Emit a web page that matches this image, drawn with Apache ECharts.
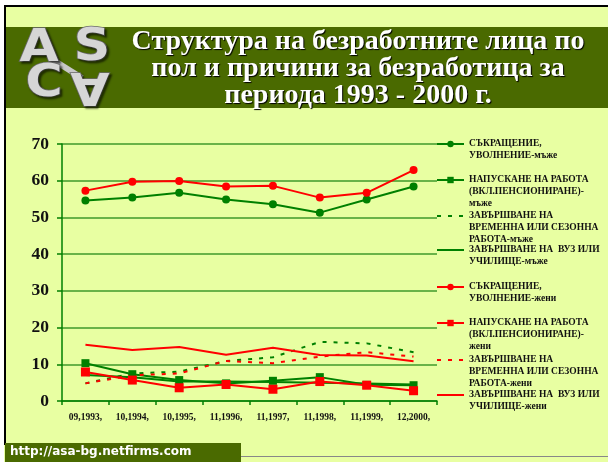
<!DOCTYPE html>
<html>
<head>
<meta charset="utf-8">
<script src="https://cdn.jsdelivr.net/npm/echarts@6/dist/echarts.min.js"></script>
<style>
html,body{margin:0;padding:0;background:#fff;}
#chart{width:608px;height:462px;}
</style>
</head>
<body>
<div id="chart"></div>
<script>
var periods = ['09,1993,', '10,1994,', '10,1995,', '11,1996,', '11,1997,', '11,1998,', '11,1999,', '12,2000,'];
var yTicks = [0, 10, 20, 30, 40, 50, 60, 70];

// мъже
var layoffMen = [54.6, 55.4, 56.7, 54.9, 53.6, 51.3, 54.9, 58.4];
var quitMen = [10.3, 7.3, 5.7, 4.8, 5.5, 6.5, 4.4, 4.3];
var seasonalMen = [4.8, 7.5, 8.0, 10.9, 11.9, 16.1, 15.7, 13.3];
var schoolMen = [7.1, 6.5, 5.3, 5.3, 5.2, 5.0, 4.8, 4.5];
// жени
var layoffWomen = [57.3, 59.7, 59.9, 58.4, 58.6, 55.4, 56.7, 62.9];
var quitWomen = [7.9, 5.7, 3.6, 4.5, 3.2, 5.3, 4.3, 2.8];
var seasonalWomen = [4.8, 7.0, 7.5, 10.9, 10.3, 12.1, 13.3, 12.1];
var schoolWomen = [15.3, 13.9, 14.7, 12.6, 14.5, 12.5, 12.4, 10.8];

var names = [
  'СЪКРАЩЕНИЕ,\nУВОЛНЕНИЕ-мъже',
  'НАПУСКАНЕ НА РАБОТА\n(ВКЛ.ПЕНСИОНИРАНЕ)-\nмъже',
  'ЗАВЪРШВАНЕ НА\nВРЕМЕННА ИЛИ СЕЗОННА\nРАБОТА-мъже',
  'ЗАВЪРШВАНЕ НА  ВУЗ ИЛИ\nУЧИЛИЩЕ-мъже',
  'СЪКРАЩЕНИЕ,\nУВОЛНЕНИЕ-жени',
  'НАПУСКАНЕ НА РАБОТА\n(ВКЛ.ПЕНСИОНИРАНЕ)-\nжени',
  'ЗАВЪРШВАНЕ НА\nВРЕМЕННА ИЛИ СЕЗОННА\nРАБОТА-жени',
  'ЗАВЪРШВАНЕ НА  ВУЗ ИЛИ\nУЧИЛИЩЕ-жени'
];
var legendY = [144, 180, 216, 250, 287, 323, 360, 395];
var noMarker = [false, false, true, true, false, false, true, true];

var GREEN = '#008000', RED = '#ff0000';
var serif = '"Liberation Serif", "DejaVu Serif", serif';

function line(name, data, color, symbol, size, dashed) {
  return {
    name: name, type: 'line', data: data,
    symbol: symbol || 'none', symbolSize: size || 0,
    itemStyle: { color: color },
    lineStyle: { color: color, width: 2, type: dashed ? [4, 7] : 'solid' },
    emphasis: { disabled: true },
    animation: false
  };
}

var series = [
  line(names[3], schoolMen, GREEN),
  line(names[2], seasonalMen, GREEN, null, 0, true),
  line(names[1], quitMen, GREEN, 'rect', 8),
  line(names[0], layoffMen, GREEN, 'circle', 8),
  line(names[7], schoolWomen, RED),
  line(names[6], seasonalWomen, RED, null, 0, true),
  line(names[5], quitWomen, RED, 'rect', 9),
  line(names[4], layoffWomen, RED, 'circle', 8)
];

// one legend per entry, first text line level with the key
var legends = names.map(function (n, i) {
  var lines = n.split('\n').length;
  var total = lines * 2 - 1;
  var leg = {
    data: [n], left: 436, top: legendY[i] - total * 6, padding: 0,
    itemWidth: 27, itemHeight: 8, itemGap: 0,
    selectedMode: false,
    formatter: function (s) { return new Array(lines).join('\n') + s; },
    textStyle: { fontFamily: serif, fontWeight: 'bold', fontSize: 9.5, lineHeight: 12, color: '#111' }
  };
  if (noMarker[i]) leg.itemStyle = { color: 'rgba(0,0,0,0)', borderWidth: 0 };
  return leg;
});

function logoLetter(ch, x, y, rot) {
  return { type: 'text', x: x, y: y, rotation: rot || 0, scaleX: 1.15, z: 5,
    style: { text: ch, font: 'bold 44px "DejaVu Sans"', fill: '#d6d6d6', stroke: '#6a6a6a', lineWidth: 1.5,
      align: 'center', verticalAlign: 'middle',
      textShadowColor: 'rgba(0,0,0,0.5)', textShadowOffsetX: 2, textShadowOffsetY: 2, textShadowBlur: 2 } };
}

var chart = echarts.init(document.getElementById('chart'));
chart.setOption({
  backgroundColor: '#e8ffa2',
  animation: false,
  graphic: [
    { type: 'rect', shape: { x: 0, y: 0, width: 608, height: 5 }, style: { fill: '#fff' }, z: -10 },
    { type: 'rect', shape: { x: 0, y: 0, width: 4, height: 462 }, style: { fill: '#fff' }, z: -10 },
    { type: 'rect', shape: { x: 4, y: 5, width: 604, height: 2 }, style: { fill: '#000' }, z: -9 },
    { type: 'rect', shape: { x: 4, y: 5, width: 2, height: 440 }, style: { fill: '#000' }, z: -9 },
    { type: 'rect', shape: { x: 6, y: 27, width: 602, height: 81 }, style: { fill: '#4a6a00' }, z: -9 },
    { type: 'line', shape: { x1: 50, y1: 58, x2: 82, y2: 78 }, style: { stroke: '#c8c8c8', lineWidth: 6 }, z: 4 },
    logoLetter('A', 39, 50),
    logoLetter('S', 92, 49),
    logoLetter('C', 44, 85),
    logoLetter('A', 90, 84, Math.PI),
    { type: 'text', x: 358, y: 28, z: 5, style: {
        text: 'Структура на безработните лица по\nпол и причини за безработица за\nпериода 1993 - 2000 г.',
        font: 'bold 28px ' + serif, lineHeight: 27, fill: '#fff', align: 'center',
        textShadowColor: '#000', textShadowOffsetX: 1, textShadowOffsetY: 1, textShadowBlur: 1 } },
    { type: 'rect', shape: { x: 240, y: 456, width: 368, height: 1 }, style: { fill: '#888' }, z: -9 },
    { type: 'rect', shape: { x: 5, y: 443, width: 236, height: 19 }, style: { fill: '#4a6a00' }, z: -9 },
    { type: 'text', left: 10, top: 446, z: 5, style: { text: 'http://asa-bg.netfirms.com', font: 'bold 12px "DejaVu Sans"', fill: '#fff' } }
  ],
  grid: { left: 62, right: 171, top: 144, bottom: 61 },
  legend: legends,
  xAxis: {
    type: 'category', data: periods, boundaryGap: true,
    axisLine: { lineStyle: { color: GREEN, width: 1.5 } },
    axisTick: { show: true, length: 4, lineStyle: { color: GREEN, width: 1.5 } },
    axisLabel: { fontFamily: serif, fontWeight: 'bold', fontSize: 9.5, color: '#111', margin: 12, interval: 0 }
  },
  yAxis: {
    type: 'value', min: yTicks[0], max: yTicks[yTicks.length - 1], interval: 10,
    axisLine: { show: true, lineStyle: { color: GREEN, width: 1.5 } },
    axisTick: { show: true, length: 5, lineStyle: { color: GREEN, width: 1.5 } },
    splitLine: { lineStyle: { color: '#3f9a2a', width: 1.5 } },
    axisLabel: { fontFamily: serif, fontWeight: 'bold', fontSize: 17.5, color: '#111', margin: 13 }
  },
  series: series
});
</script>
</body>
</html>
